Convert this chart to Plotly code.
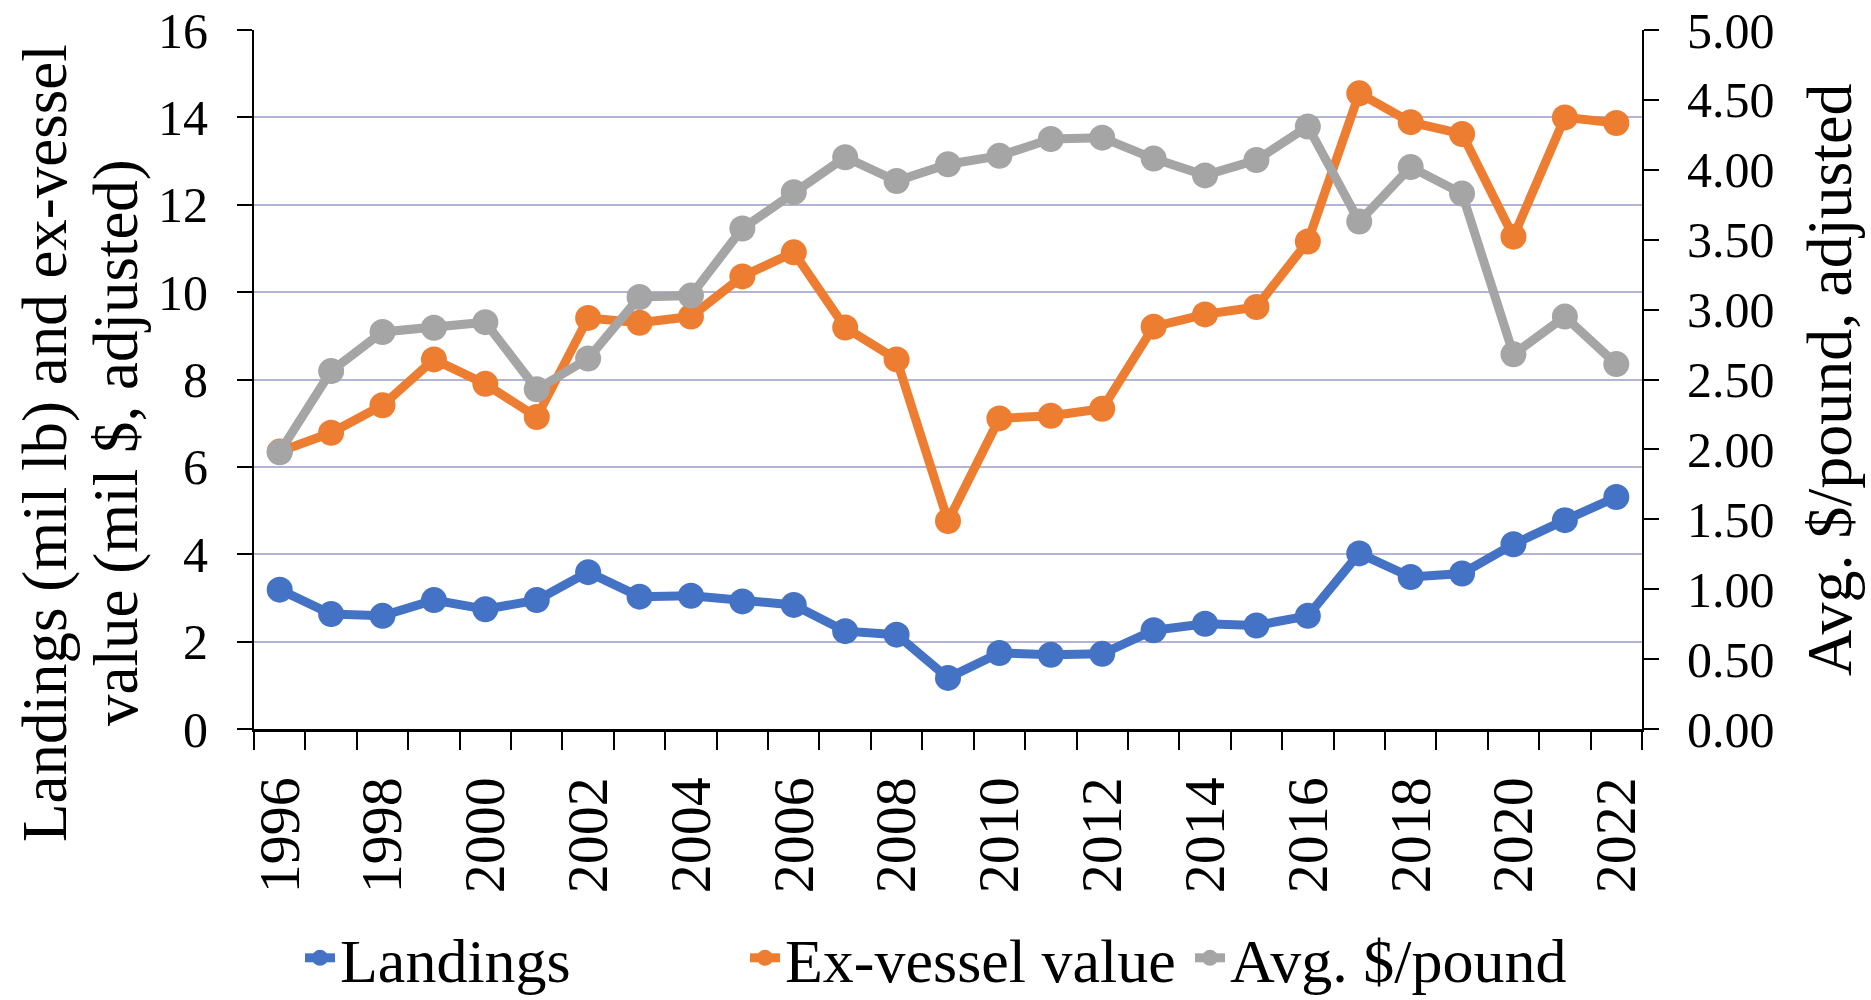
import plotly.graph_objects as go

# Annual series, 1996-2022
years = list(range(1996, 2023))

landings = [3.19, 2.63, 2.59, 2.95, 2.74, 2.95, 3.59, 3.03, 3.05, 2.92,
            2.84, 2.24, 2.16, 1.17, 1.74, 1.70, 1.72, 2.26, 2.41, 2.37,
            2.59, 4.02, 3.48, 3.56, 4.23, 4.78, 5.31]

ex_vessel = [6.35, 6.78, 7.41, 8.46, 7.90, 7.14, 9.41, 9.30, 9.44, 10.36,
             10.91, 9.19, 8.46, 4.76, 7.11, 7.17, 7.33, 9.21, 9.49, 9.66,
             11.16, 14.55, 13.89, 13.62, 11.27, 14.00, 13.87]

avg_price = [1.98, 2.56, 2.84, 2.87, 2.91, 2.43, 2.65, 3.09, 3.10, 3.58,
             3.84, 4.09, 3.92, 4.04, 4.10, 4.22, 4.23, 4.08, 3.96, 4.07,
             4.31, 3.63, 4.02, 3.83, 2.68, 2.95, 2.61]

label_years = list(range(1996, 2023, 2))
boundaries = [y - 0.5 for y in range(1996, 2024)]

left_title = ["Landings (mil lb) and ex-vessel", "value (mil $, adjusted)"]
right_title = "Avg. $/pound, adjusted"

FONT = "Liberation Serif, Times New Roman, serif"
BLUE, ORANGE, GRAY = "#4472C4", "#ED7D31", "#A5A5A5"
GRID = "#B3B3D6"

W, H = 1871, 1000
L, R, T, B = 254, 229, 30, 271

fig = go.Figure()

def add_series(y, name, color, axis):
    fig.add_trace(go.Scatter(
        x=years, y=y, name=name, yaxis=axis,
        mode="lines+markers",
        line=dict(color=color, width=9),
        marker=dict(color=color, size=26),
    ))

add_series(landings, "Landings", BLUE, "y")
add_series(ex_vessel, "Ex-vessel value", ORANGE, "y")
add_series(avg_price, "Avg. $/pound", GRAY, "y2")

# axis titles as rotated annotations (Excel puts them off-centre)
def rot_title(text, cx, cy, size):
    fig.add_annotation(
        text=text, textangle=-90, showarrow=False,
        xref="paper", yref="paper", x=0, y=1,
        xshift=cx - L, yshift=-(cy - T),
        xanchor="center", yanchor="middle",
        font=dict(size=size),
    )

rot_title(left_title[0], 45, 443, 63)
rot_title(left_title[1], 116, 443, 63)
rot_title(right_title, 1829, 380, 64)

fig.update_layout(
    width=W, height=H,
    margin=dict(l=L, r=R, t=T, b=B, autoexpand=False),
    paper_bgcolor="white", plot_bgcolor="white",
    font=dict(family=FONT, color="black", size=50),
    showlegend=True,
    legend=dict(
        orientation="h", x=300 / W, xanchor="left", xref="container",
        y=0.042, yanchor="middle", yref="container",
        font=dict(size=62), itemwidth=30,
        entrywidth=400, entrywidthmode="pixels",
        traceorder="normal",
    ),
    xaxis=dict(
        range=[1995.5, 2022.5], automargin=False,
        tickmode="array", tickvals=label_years,
        ticktext=[str(y) for y in label_years],
        tickangle=-90, ticks="",
        tickfont=dict(size=58),
        ticklabelstandoff=22,
        minor=dict(tickmode="array", tickvals=boundaries,
                   ticks="outside", ticklen=18, tickwidth=2,
                   tickcolor="black", showgrid=False),
        showgrid=False, zeroline=False,
        showline=True, linecolor="black", linewidth=3,
    ),
    yaxis=dict(
        range=[0, 16], dtick=2, tick0=0, automargin=False,
        ticks="outside", ticklen=15, tickwidth=2, tickcolor="black",
        ticklabelstandoff=19, ticklabeloverflow="allow",
        showgrid=True, gridcolor=GRID, gridwidth=2,
        zeroline=False,
        showline=True, linecolor="black", linewidth=2,
    ),
    yaxis2=dict(
        range=[0, 5], dtick=0.5, tick0=0, tickformat=".2f", automargin=False,
        overlaying="y", side="right",
        ticks="outside", ticklen=15, tickwidth=2, tickcolor="black",
        ticklabelstandoff=18, ticklabeloverflow="allow",
        showgrid=False, zeroline=False,
        showline=True, linecolor="black", linewidth=2,
    ),
)

# drop the default 8px body margin so the figure fills the window exactly
fig.write_html("out.html", config={"displayModeBar": False},
               post_script="document.body.style.margin = '0';")
